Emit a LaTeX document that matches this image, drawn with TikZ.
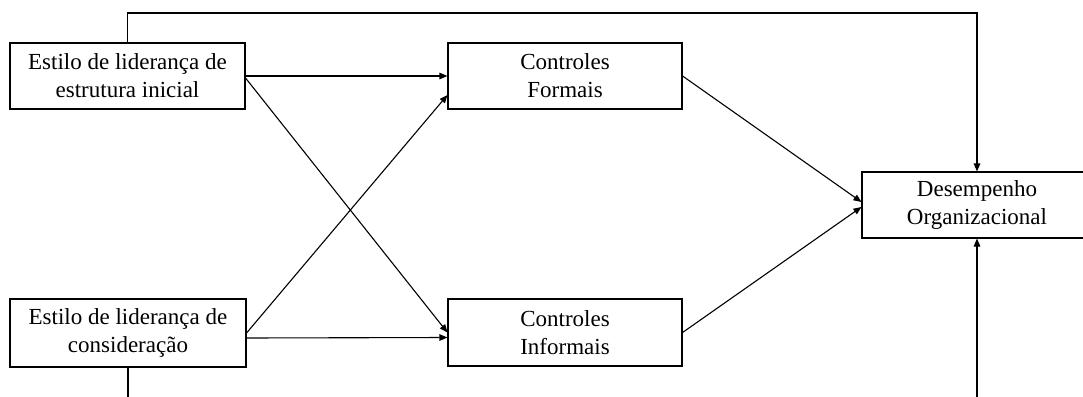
\documentclass[tikz,border=0pt]{standalone}
\usepackage{fontspec}
\setmainfont{Liberation Serif}
\usetikzlibrary{arrows.meta}
\begin{document}
\begin{tikzpicture}[x=1pt,y=-1pt,
  box/.style={draw,line width=1.1pt,inner sep=0pt,align=center,
    font=\fontsize{23}{28}\selectfont},
  conn/.style={line width=1.1pt},
  arr/.style={conn,-{Triangle[length=8pt,width=6.5pt]}}]
\useasboundingbox (0,0) rectangle (1083,396);
\clip (0,0) rectangle (1083,396);
\node[box,minimum width=235pt,minimum height=66pt] (A) at (127.5,76) {Estilo de liderança de\\estrutura inicial};
\node[box,minimum width=236pt,minimum height=68pt] (B) at (128,333) {Estilo de liderança de\\consideração};
\node[box,minimum width=234pt,minimum height=66pt] (C) at (565,76) {Controles\\Formais};
\node[box,minimum width=234pt,minimum height=67pt] (D) at (565,332.5) {Controles\\Informais};
\node[box,minimum width=230pt,minimum height=66pt] (E) at (977,205) {Desempenho\\Organizacional};
\coordinate (t) at (977,13);
\coordinate (b) at (977,420);
\draw[arr] (A.east) -- (C.west);
\draw[arr] ([yshift=-2pt]A.east) -- (D.west);
\draw[arr] (B.east) -- ([yshift=-19pt]C.west);
\draw[arr] ([yshift=-5pt]B.east) -- ([yshift=-5pt]D.west);
\draw[arr] (C.east) -- ([yshift=3pt]E.west);
\draw[arr] (D.east) -- ([yshift=-2pt]E.west);
\draw[arr] (A.north) |- (t) -- (E.north);
\draw[arr] (B.south) |- (b) -- (E.south);
\end{tikzpicture}
\end{document}
